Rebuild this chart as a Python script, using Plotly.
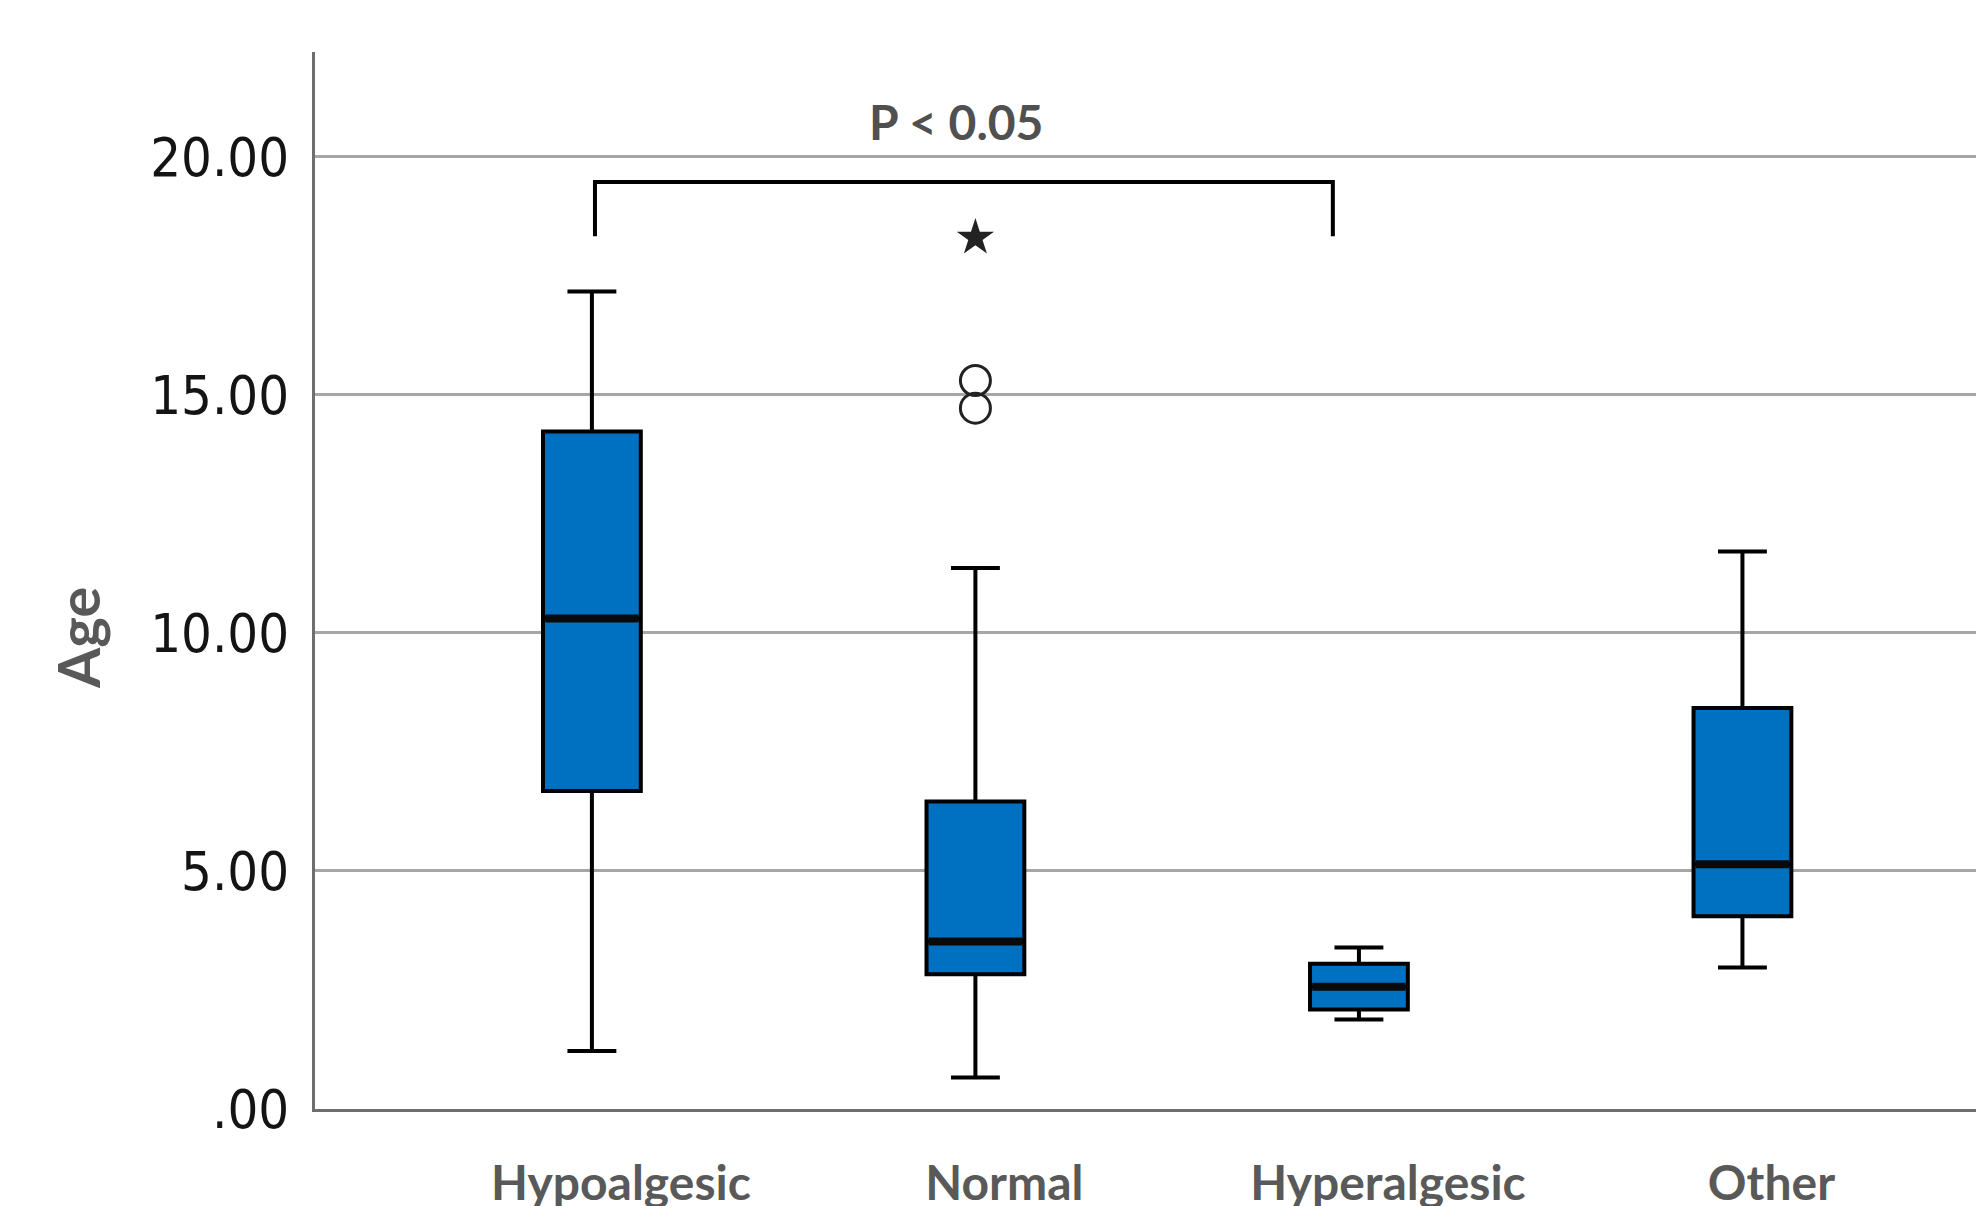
import plotly.graph_objects as go

# Age distribution per pain-sensitivity group (box-plot summary statistics)
categories = ["Hypoalgesic", "Normal", "Hyperalgesic", "Other"]
lower_whisker = [1.22, 0.66, 1.88, 2.97]
q1 = [6.68, 2.83, 2.09, 4.05]
median = [10.30, 3.52, 2.57, 5.14]
q3 = [14.23, 6.46, 3.05, 8.42]
upper_whisker = [17.17, 11.36, 3.39, 11.71]

# Outliers of the Normal group: circles (mild) and star (extreme)
outlier_group = ["Normal", "Normal"]
outlier_age = [15.30, 14.72]
extreme_group = ["Normal"]
extreme_age = [18.30]

y_tickvals = [0, 5, 10, 15, 20]
y_ticktext = [".00", "5.00", "10.00", "15.00", "20.00"]

BOX_FILL = "#0070C0"
BOX_W = 0.255
LABEL_FONT = "Lato, sans-serif"
TICK_FONT = "DejaVu Sans Condensed, DejaVu Sans, sans-serif"

pos = {c: i for i, c in enumerate(categories)}

fig = go.Figure()

for i, c in enumerate(categories):
    fig.add_trace(go.Box(
        x=[i], q1=[q1[i]], median=[median[i]], q3=[q3[i]],
        lowerfence=[lower_whisker[i]], upperfence=[upper_whisker[i]],
        width=BOX_W, whiskerwidth=0.5,
        fillcolor=BOX_FILL, line=dict(color="black", width=4),
        boxpoints=False, showlegend=False, hoverinfo="skip",
    ))
    # heavier median bar
    fig.add_trace(go.Scatter(
        x=[i - BOX_W / 2 + 0.006, i + BOX_W / 2 - 0.006],
        y=[median[i], median[i]], mode="lines",
        line=dict(color="#0a0a0a", width=8),
        showlegend=False, hoverinfo="skip",
    ))

fig.add_trace(go.Scatter(
    x=[pos[g] for g in outlier_group], y=outlier_age, mode="markers",
    marker=dict(symbol="circle-open", size=30, color="#222222", line=dict(width=3)),
    showlegend=False, hoverinfo="skip",
))
fig.add_trace(go.Scatter(
    x=[pos[g] for g in extreme_group], y=extreme_age, mode="markers",
    marker=dict(symbol="star", size=28, color="#222222"),
    showlegend=False, hoverinfo="skip",
))

# significance bracket between Hypoalgesic and Hyperalgesic
fig.add_shape(type="path", xref="x", yref="y",
              path="M 0.008,18.33 L 0.008,19.47 L 1.932,19.47 L 1.932,18.33",
              line=dict(color="black", width=4))
fig.add_annotation(x=0.949, y=20.73, xref="x", yref="y", text="<b>P &lt; 0.05</b>",
                   showarrow=False, xanchor="center", yanchor="middle",
                   font=dict(family=LABEL_FONT, size=48, color="#505050"))

fig.add_annotation(x=0, xref="paper", xshift=-238, y=9.89, yref="y",
                   text="<b>Age</b>", textangle=-90, showarrow=False,
                   xanchor="center", yanchor="middle",
                   font=dict(family=LABEL_FONT, size=58, color="#595959"))

fig.update_layout(
    width=1976, height=1206,
    margin=dict(l=315, r=0, t=52, b=97),
    paper_bgcolor="white", plot_bgcolor="white",
    xaxis=dict(range=[-0.722, 3.609], tickvals=list(range(len(categories))),
               ticktext=[f"<b>{c}</b>" for c in categories],
               tickfont=dict(family=LABEL_FONT, size=48, color="#595959"),
               ticklabelshift=29, ticklabelstandoff=30, automargin=False,
               showgrid=False, zeroline=False, showline=True,
               linecolor="#6e6e6e", linewidth=3, ticks=""),
    yaxis=dict(range=[0, 22.2], tickvals=y_tickvals, ticktext=y_ticktext,
               tickfont=dict(family=TICK_FONT, size=54, color="#141414"),
               ticklabelstandoff=12, automargin=False,
               showgrid=True, gridcolor="#a6a6a6", gridwidth=3,
               zeroline=False, showline=True, linecolor="#6e6e6e", linewidth=3, ticks=""),
)

fig.write_html("out.html")
